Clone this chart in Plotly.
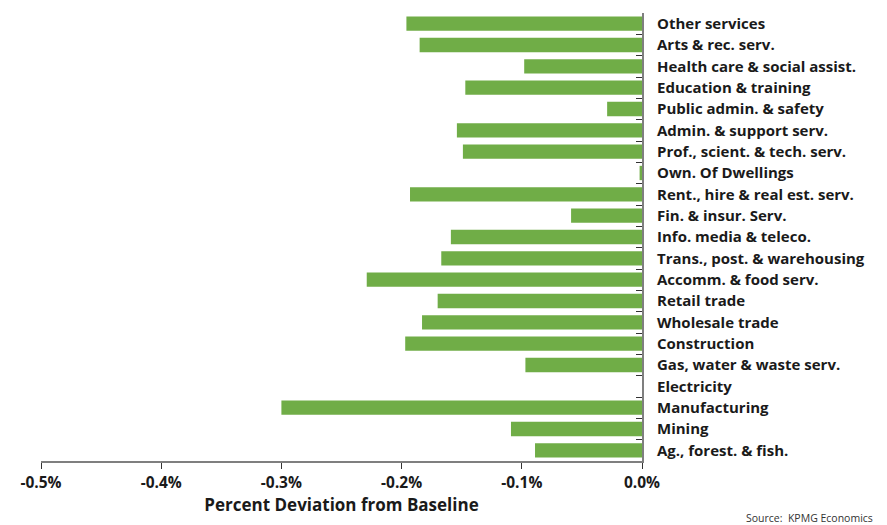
import plotly.graph_objects as go

# Industries, listed bottom to top as they appear on the chart
industries = [
    "Ag., forest. & fish.",
    "Mining",
    "Manufacturing",
    "Electricity",
    "Gas, water & waste serv.",
    "Construction",
    "Wholesale trade",
    "Retail trade",
    "Accomm. & food serv.",
    "Trans., post. & warehousing",
    "Info. media & teleco.",
    "Fin. & insur. Serv.",
    "Rent., hire & real est. serv.",
    "Own. Of Dwellings",
    "Prof., scient. & tech. serv.",
    "Admin. & support serv.",
    "Public admin. & safety",
    "Education & training",
    "Health care & social assist.",
    "Arts & rec. serv.",
    "Other services",
]

# Percent deviation from baseline
deviation = [
    -0.089, -0.109, -0.300, 0.000, -0.097, -0.197, -0.183, -0.170,
    -0.229, -0.167, -0.159, -0.059, -0.193, -0.002, -0.149, -0.154,
    -0.029, -0.147, -0.098, -0.185, -0.196,
]

x_ticks = [-0.5, -0.4, -0.3, -0.2, -0.1, 0.0]

FONT = "Open Sans"
INK = "#1a1a1a"

fig = go.Figure(
    go.Bar(
        x=deviation,
        y=industries,
        orientation="h",
        marker=dict(color="#70AD47", line=dict(width=0)),
        width=0.67,
    )
)

fig.update_layout(
    width=887,
    height=525,
    margin=dict(l=41, r=245, t=13, b=64),
    paper_bgcolor="white",
    plot_bgcolor="white",
    showlegend=False,
    font=dict(family=FONT, color=INK),
    bargap=0.33,
)

fig.update_xaxes(
    range=[-0.5, 0.0],
    tickvals=x_ticks,
    ticktext=[f"{v:.1f}%" for v in x_ticks],
    tickfont=dict(size=15.5, family=FONT, weight=700, color=INK),
    ticks="outside",
    ticklen=6,
    tickwidth=1,
    tickcolor="#333333",
    showline=True,
    linecolor="#7f7f7f",
    linewidth=2,
    showgrid=False,
    zeroline=False,
    title=dict(
        text="Percent Deviation from Baseline",
        font=dict(size=17, family=FONT, weight=700, color=INK),
        standoff=8,
    ),
)

fig.update_yaxes(
    type="category",
    categoryorder="array",
    categoryarray=industries,
    side="right",
    ticks="inside",
    tickson="boundaries",
    ticklen=6,
    tickwidth=1,
    tickcolor="#333333",
    showline=True,
    linecolor="#7f7f7f",
    linewidth=2,
    showgrid=False,
    zeroline=False,
    tickfont=dict(size=15, family=FONT, weight=700, color=INK),
    ticklabelstandoff=10,
)

fig.add_annotation(
    text="Source:  KPMG Economics",
    xref="paper",
    yref="paper",
    x=(875 - 41) / (887 - 41 - 245),
    y=-(518 - 461) / (525 - 13 - 64),
    xanchor="right",
    yanchor="middle",
    showarrow=False,
    font=dict(size=10.5, family=FONT, color="#333333"),
)

fig.write_html("out.html")
